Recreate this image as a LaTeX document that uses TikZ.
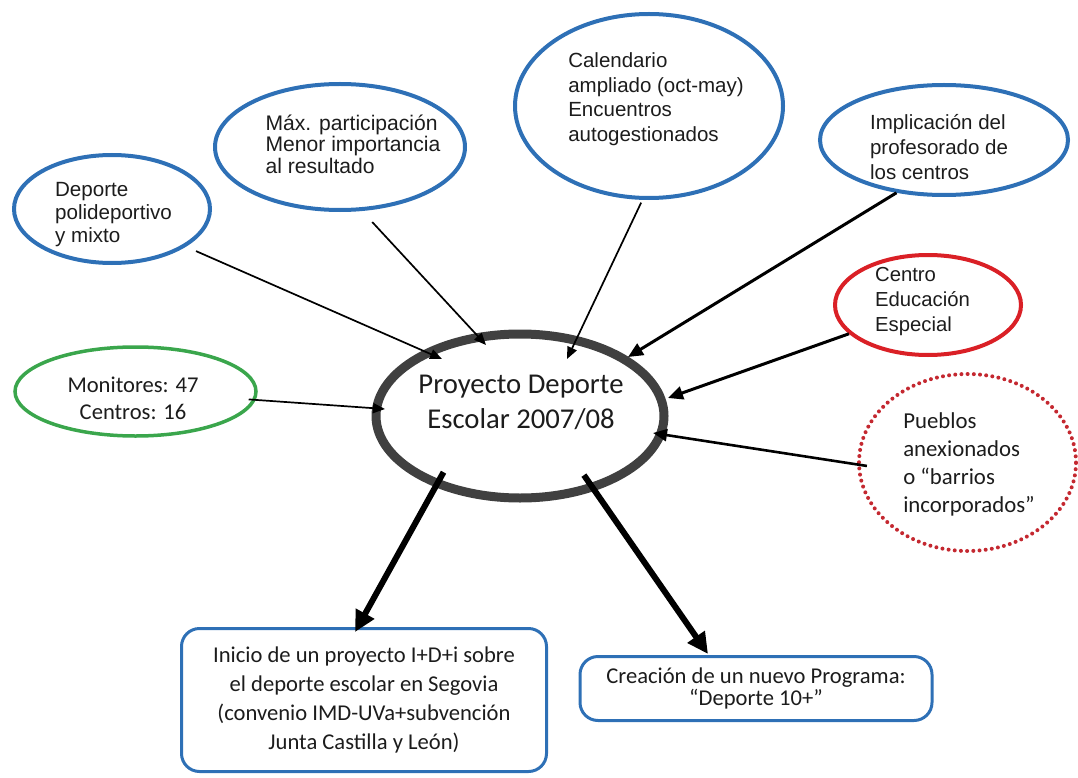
\documentclass[tikz,border=0pt]{standalone}
\usepackage{fontspec}
\setmainfont{Liberation Sans}
\newfontfamily\calib{Carlito}
\usetikzlibrary{shapes.geometric,arrows.meta}
\definecolor{myblue}{RGB}{46,112,182}
\definecolor{myred}{RGB}{218,32,38}
\definecolor{mygreen}{RGB}{58,166,76}
\definecolor{dotred}{RGB}{196,40,48}
\definecolor{ringgray}{RGB}{64,64,64}
\definecolor{txt}{RGB}{28,28,28}
\begin{document}
\begin{tikzpicture}[x=1pt,y=-1pt,
  bubble/.style={ellipse,draw=myblue,line width=4pt,inner sep=0pt},
  armtext/.style={text=txt,align=left,inner sep=0pt},
  calitext/.style={text=txt,inner sep=0pt},
  arrowthin/.style={draw=black,line width=1.7pt,-{Triangle[length=12pt,width=10pt]}},
  arrowmid/.style={draw=black,line width=3pt,-{Triangle[length=15pt,width=13pt]}},
  arrowpue/.style={draw=black,line width=2.6pt,-{Triangle[length=14pt,width=12pt]}},
  arrowbig/.style={draw=black,line width=6pt,-{Triangle[length=21pt,width=20pt]}},
  boxstyle/.style={draw=myblue,line width=3pt,rounded corners=18pt,inner sep=0pt,text=txt,align=center}
]
\useasboundingbox (0,0) rectangle (1078,778);

% outer bubbles
\node[bubble,minimum width=196pt,minimum height=108pt] (dep) at (112,209) {};
\node[armtext,font=\fontsize{20.6}{23}\selectfont] (depT) at (113.5,215) {Deporte\\polideportivo\\y mixto};

\node[bubble,minimum width=250pt,minimum height=126pt] (max) at (340,147) {};
\node[armtext,font=\fontsize{21.1}{21.5}\selectfont] (maxT) at (353,144) {Máx. participación\\Menor importancia\\al resultado};

\node[bubble,minimum width=268pt,minimum height=184pt] (cal) at (649,106) {};
\node[armtext,font=\fontsize{20.5}{24.5}\selectfont] (calT) at (656,99) {Calendario\\ampliado (oct-may)\\Encuentros\\autogestionados};

\node[bubble,minimum width=248pt,minimum height=110pt] (imp) at (944,140) {};
\node[armtext,font=\fontsize{20.5}{25}\selectfont] (impT) at (939,147) {Implicación del\\profesorado de\\los centros};

\node[ellipse,draw=myred,line width=4pt,inner sep=0pt,minimum width=186pt,minimum height=100pt] (cen) at (928,305) {};
\node[armtext,font=\fontsize{20.3}{25}\selectfont] (cenT) at (922.5,302) {Centro\\Educación\\Especial};

\node[ellipse,draw=mygreen,line width=3.5pt,inner sep=0pt,minimum width=241pt,minimum height=89pt] (mon) at (135.5,391.5) {};
\node[calitext,align=center,font=\calib\fontsize{22.6}{27}\selectfont] (monT) at (133,398) {Monitores: 47\\Centros: 16};

\node[ellipse,draw=dotred,line width=4pt,dash pattern=on 0pt off 6.2pt,line cap=round,inner sep=0pt,minimum width=217pt,minimum height=177pt] (pue) at (967.5,462.5) {};
\node[calitext,align=left,font=\calib\fontsize{22.8}{28}\selectfont] (pueT) at (969,464) {Pueblos\\anexionados\\o “barrios\\incorporados”};

% central ellipse
\node[ellipse,draw=ringgray,line width=9pt,inner sep=0pt,minimum width=288pt,minimum height=164pt] (proj) at (520,416) {};
\node[calitext,align=center,font=\calib\fontsize{28.7}{35}\selectfont] (projT) at (521,402) {Proyecto Deporte\\Escolar 2007/08};

% bottom boxes
\node[boxstyle,minimum width=365pt,minimum height=143pt,font=\calib\fontsize{22.6}{29}\selectfont] (box1) at (364,700) {Inicio de un proyecto I+D+i sobre\\el deporte escolar en Segovia\\(convenio IMD-UVa+subvención\\Junta Castilla y León)};
\node[boxstyle,minimum width=352pt,minimum height=64pt,font=\calib\fontsize{22.6}{22.5}\selectfont] (box2) at (756,688.5) {Creación de un nuevo Programa:\\“Deporte 10+”};

% arrow tips
\coordinate (t1) at (442,359);
\coordinate (t2) at (486,345);
\coordinate (t3) at (567,359);
\coordinate (t4) at (628,357);
\coordinate (t5) at (668,398);
\coordinate (t6) at (653,433);
\coordinate (t7) at (385,409);
\coordinate (t8) at (355,632);
\coordinate (t9) at (708,654);

% connectors
\draw[arrowthin,shorten <=11pt] (dep.-27) -- (t1);
\draw[arrowthin,shorten <=15pt] (max.-71) -- (t2);
\draw[arrowthin,shorten <=3pt] (cal.-94) -- (t3);
\draw[arrowmid] (imp.-132) -- (t4);
\draw[arrowmid] (cen.-160) -- (t5);
\draw[arrowpue,shorten <=-10pt] (pue.181) -- (t6);
\draw[arrowthin,shorten <=-7pt] (mon.-4) -- (t7);
\draw[arrowbig,shorten <=-17pt] (proj.-140) -- (t8);
\draw[arrowbig,shorten <=-19pt] (proj.-45) -- (t9);
\end{tikzpicture}
\end{document}
